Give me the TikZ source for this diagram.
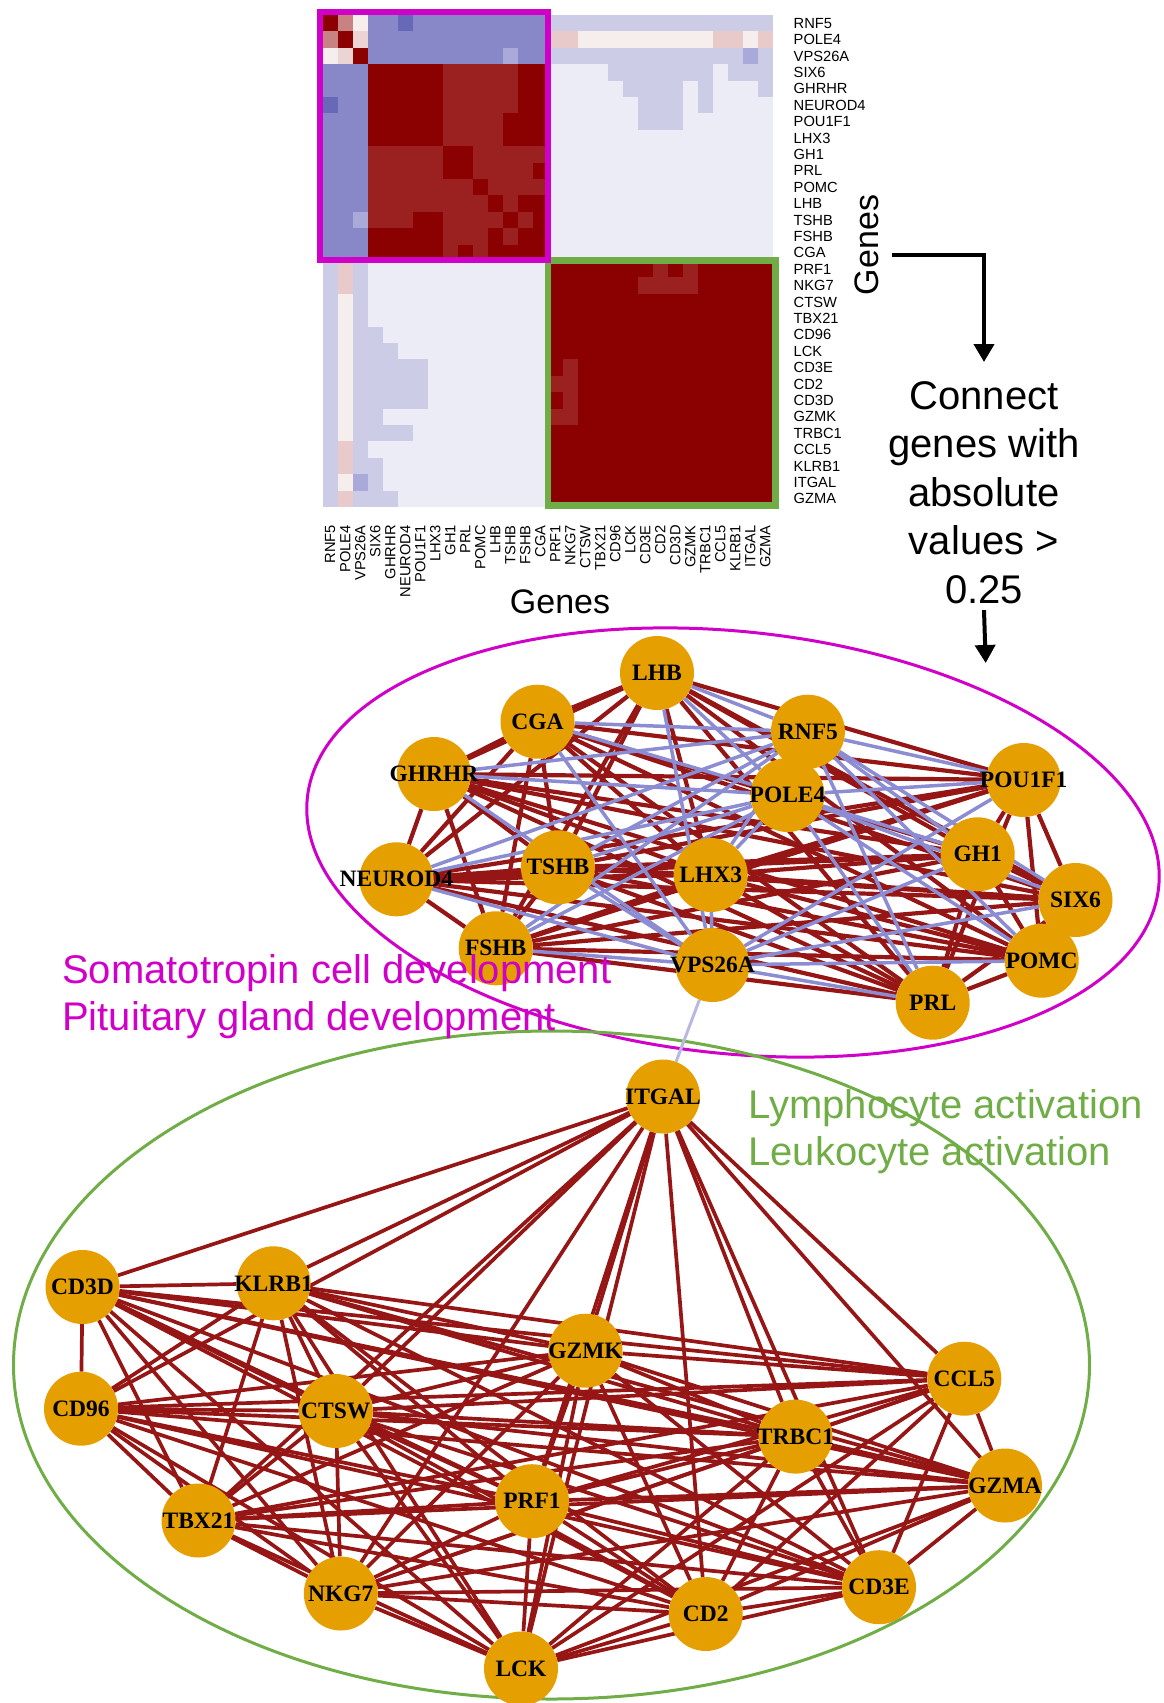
\documentclass[tikz,border=0pt]{standalone}
\usepackage{fontspec}
\setmainfont{Liberation Sans}
\newfontfamily\genefont{Liberation Serif}
\usetikzlibrary{arrows.meta, backgrounds, positioning}

% heatmap colours
\definecolor{hmD}{RGB}{139,0,0}
\definecolor{hmM}{RGB}{155,32,32}
\definecolor{hmB}{RGB}{136,136,200}
\definecolor{hmBd}{RGB}{104,104,184}
\definecolor{hmL}{RGB}{170,170,218}
\definecolor{hmV}{RGB}{204,204,230}
\definecolor{hmE}{RGB}{236,236,246}
\definecolor{hmP}{RGB}{232,202,202}
\definecolor{hmP2}{RGB}{236,212,212}
\definecolor{hmR}{RGB}{200,130,130}
\definecolor{hmW}{RGB}{246,237,237}
% network colours
\definecolor{geneorange}{RGB}{230,159,0}
\definecolor{posedge}{RGB}{150,22,22}
\definecolor{negedge}{RGB}{140,140,210}
\definecolor{weakedge}{RGB}{184,184,226}
\definecolor{pitmagenta}{RGB}{208,0,200}
\definecolor{lymgreen}{RGB}{112,173,71}

% fill a block of cells and its mirror block
\newcommand{\hmblock}[5]{%
  \fill[#5] (#1,#2) rectangle (#3,#4);
  \fill[#5] (#2,#1) rectangle (#4,#3);}

\newcommand{\allgenes}{RNF5,POLE4,VPS26A,SIX6,GHRHR,NEUROD4,POU1F1,LHX3,GH1,PRL,POMC,LHB,TSHB,FSHB,CGA,PRF1,NKG7,CTSW,TBX21,CD96,LCK,CD3E,CD2,CD3D,GZMK,TRBC1,CCL5,KLRB1,ITGAL,GZMA}
\newcommand{\pitgenes}{SIX6,GHRHR,NEUROD4,POU1F1,LHX3,GH1,PRL,POMC,LHB,TSHB,FSHB,CGA}
\newcommand{\neggenes}{RNF5,POLE4,VPS26A}
\newcommand{\lymgenes}{PRF1,NKG7,CTSW,TBX21,CD96,LCK,CD3E,CD2,CD3D,GZMK,TRBC1,CCL5,KLRB1,ITGAL,GZMA}

\tikzset{
  gene/.style={circle, fill=geneorange, minimum size=74pt, inner sep=0pt,
    font=\genefont\bfseries\fontsize{23.5}{24}\selectfont},
  pitline/.style={draw=posedge, line width=4.2pt},
  posline/.style={draw=posedge, line width=3.7pt},
  negline/.style={draw=negedge, line width=3.5pt},
  rowlab/.style={anchor=west, inner sep=0pt, font=\fontsize{14.7}{16}\selectfont},
  collab/.style={rotate=90, anchor=east, inner sep=0pt, font=\fontsize{14.7}{16}\selectfont},
  axislab/.style={inner sep=0pt, font=\fontsize{34}{40}\selectfont},
  flowarrow/.style={line width=4pt, -{Triangle[length=18pt, width=20pt]}},
  termlab/.style={inner sep=0pt, font=\fontsize{40}{47.5}\selectfont},
}

\begin{document}
\begin{tikzpicture}[x=1pt, y=-1pt]
\useasboundingbox (0,0) rectangle (1164,1703);

% correlation heatmap
\begin{scope}[xshift=322.7pt, yshift=-15pt, x=15pt, y=-16.4pt]
\fill[hmE] (0,0) rectangle (30,30);
\fill[hmD] (15,15) rectangle (30,30);
\fill[hmM] (3,3) rectangle (15,15);
\fill[hmD] (3,3) rectangle (8,8);
\fill[hmD] (8,8) rectangle (10,10);
\fill[hmD] (13,13) rectangle (15,15);
\foreach \k in {0,1,2,10,11,12}
  \fill[hmD] (\k,\k) rectangle (\k+1,\k+1);
\hmblock{13}{3}{15}{6}{hmD}
\hmblock{12}{6}{15}{8}{hmD}
\hmblock{14}{9}{15}{10}{hmD}
\hmblock{13}{11}{15}{12}{hmD}
\hmblock{14}{12}{15}{13}{hmD}
\hmblock{3}{0}{15}{3}{hmB}
\hmblock{5}{0}{6}{1}{hmBd}
\hmblock{12}{2}{13}{3}{hmL}
\hmblock{1}{0}{2}{1}{hmR}
\hmblock{2}{0}{3}{1}{hmW}
\hmblock{2}{1}{3}{2}{hmP2}
\hmblock{15}{0}{30}{3}{hmV}
\hmblock{15}{1}{17}{2}{hmP}
\hmblock{17}{1}{26}{2}{hmW}
\hmblock{26}{1}{28}{2}{hmP}
\hmblock{28}{1}{29}{2}{hmW}
\hmblock{29}{1}{30}{2}{hmP}
\hmblock{28}{2}{29}{3}{hmL}
\hmblock{21}{3}{24}{7}{hmV}
\hmblock{19}{3}{21}{4}{hmV}
\hmblock{20}{4}{21}{5}{hmV}
\hmblock{24}{3}{26}{4}{hmV}
\hmblock{25}{4}{26}{6}{hmV}
\hmblock{27}{3}{30}{4}{hmV}
\hmblock{29}{4}{30}{5}{hmV}
\hmblock{22}{15}{23}{16}{hmM}
\hmblock{24}{15}{25}{16}{hmM}
\hmblock{21}{16}{25}{17}{hmM}
\end{scope}
\draw[lymgreen, line width=6.5pt] (548,260.3) rectangle (775.7,505.7);
\draw[pitmagenta, line width=6pt] (319.7,12.2) rectangle (548,260.3);

% gene names on both axes
\foreach \g [count=\r from 0] in \allgenes {
  \node[rowlab] (row\g) at (793.5,23.2+16.4*\r) {\g};
  \node[collab] (col\g) at (330.2+15*\r,525) {\g};
}
\node[axislab, anchor=base] (xlab) at (560,613) {Genes};
\node[axislab, rotate=90] (ylab) at (867,245) {Genes};

% threshold step
\node[termlab, font=\fontsize{40}{48.6}\selectfont, align=center, anchor=north] (conn)
  at (984,381) {Connect\\genes with\\absolute\\values >\\0.25};
\coordinate (turn) at (891.7,255);
\coordinate (netin) at (985.7,663);
\draw[flowarrow] (turn) -| ([yshift=19pt]conn.north);
\draw[flowarrow] ([yshift=-6pt]conn.south) -- (netin);

% network nodes
\foreach \n/\x/\y in {LHB/657/673, CGA/537.5/721.7, GHRHR/433.9/774,
    NEUROD4/396.4/879.3, TSHB/557.9/867.3, FSHB/495.7/948.3, LHX3/710.7/875,
    VPS26A/712.5/965, RNF5/807.9/731.7, POLE4/787.5/795, POU1F1/1023.7/780,
    GH1/977.7/854.3, SIX6/1075.5/900, POMC/1041.7/960.7, PRL/932.7/1002.7}
  \node[gene] (\n) at (\x,\y) {\makebox[0pt]{\n}};
\foreach \n/\x/\y in {ITGAL/663/1096.5, CD3D/82.5/1287, KLRB1/273.6/1283.3,
    GZMK/585.5/1350.7, CCL5/964.3/1378.7, CD96/81/1408.7, CTSW/335.8/1411,
    TRBC1/795.5/1436.6, GZMA/1005/1485.5, TBX21/198.5/1520.5, PRF1/532/1501.2,
    NKG7/340.8/1593.5, CD2/705.7/1614, CD3E/879/1587.2, LCK/521/1668.5}
  \node[gene] (\n) at (\x,\y) {\makebox[0pt]{\n}};

\begin{scope}[on background layer]
\draw[pitmagenta, line width=3pt, rotate around={-6:(733,842.5)}]
  (733,842.5) ellipse [x radius=428, y radius=211];
\draw[lymgreen, line width=3pt] (551.5,1365) ellipse [x radius=538, y radius=334];
% edges with |r| > 0.25
\foreach \a [count=\i] in \pitgenes
  \foreach \b [count=\j] in \pitgenes
    {\ifnum\j>\i \draw[pitline] (\a) -- (\b);\fi}
\foreach \a in \neggenes
  \foreach \b in \pitgenes
    \draw[negline] (\a) -- (\b);
\draw[draw=weakedge, line width=3pt] (VPS26A) -- (ITGAL);
\foreach \a [count=\i] in \lymgenes
  \foreach \b [count=\j] in \lymgenes
    {\ifnum\j>\i \draw[posline] (\a) -- (\b);\fi}
\end{scope}

% enriched terms
\node[termlab, text=pitmagenta, align=left, anchor=north west] (pitterm) at (62,954)
  {Somatotropin cell development\\Pituitary gland development};
\node[termlab, text=lymgreen, align=left, anchor=north west] (lymterm) at (748.3,1089)
  {Lymphocyte activation\\Leukocyte activation};
\end{tikzpicture}
\end{document}
